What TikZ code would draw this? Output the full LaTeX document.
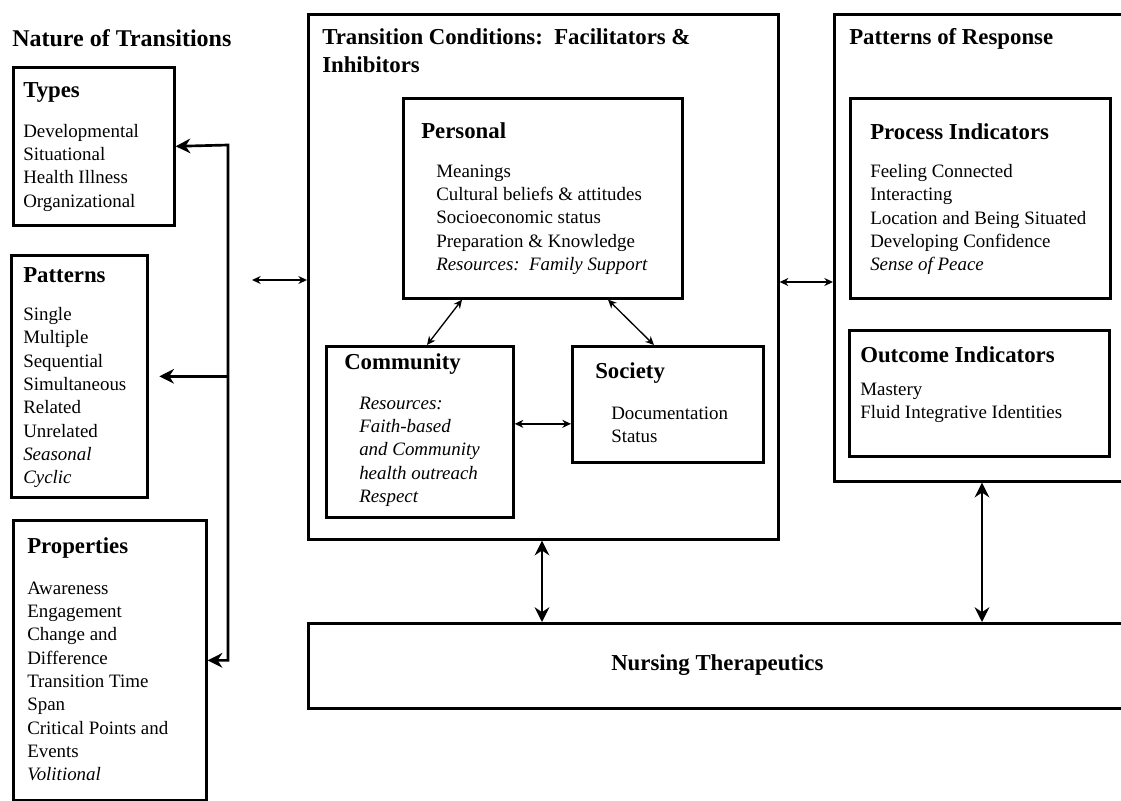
\documentclass[tikz,border=0pt]{standalone}
\usepackage{fontspec}
\setmainfont{Liberation Serif}
\usepackage{tikz}
\usetikzlibrary{positioning, calc, arrows.meta}
\tikzset{
  frame/.style 2 args={draw, line width=2pt, inner sep=0pt, anchor=north west,
    minimum width=#1*0.75pt, minimum height=#2*0.75pt},
  head/.style={font=\fontsize{17.1}{21}\selectfont\bfseries, anchor=west, inner sep=0pt, align=left},
  body/.style={font=\fontsize{14.2}{17.5}\selectfont, anchor=west, inner sep=0pt, align=left},
  twoway/.style={line width=1pt, {Stealth[length=6.5pt,width=6pt]}-{Stealth[length=6.5pt,width=6pt]}},
  fatarrow/.style={line width=2pt, -{Stealth[length=11pt,width=11pt]}},
  fattwoway/.style={line width=2pt, {Stealth[length=11pt,width=11pt]}-{Stealth[length=11pt,width=11pt]}}
}
\begin{document}
\begin{tikzpicture}[x=0.75pt, y=-0.75pt]
  \useasboundingbox (0,0) rectangle (1121,800);

  % Nature of transitions nodes

  \node[head, font=\fontsize{18}{21}\selectfont\bfseries] (nattitle) at (12,38) {Nature of Transitions};

  \node[frame={161}{158}] (types) at (12,66) {};
  \node[head] (typesh) at ($(types.north west)+(11,26)$) {Types};
  \node[body] (typesl) at ($(types.north west)+(11,101.5)$) {Developmental\\Situational\\Health Illness\\Organizational};

  \node[frame={136}{242}] (patterns) at (10,254) {};
  \node[head] (patternsh) at ($(patterns.north west)+(13,21)$) {Patterns};
  \node[body] (patternsl) at ($(patterns.north west)+(13,143.5)$) {Single\\Multiple\\Sequential\\Simultaneous\\Related\\Unrelated\\\textit{Seasonal}\\\textit{Cyclic}};

  \node[frame={193}{280}] (props) at (12,519) {};
  \node[head] (propsh) at ($(props.north west)+(15,29)$) {Properties};
  \node[body] (propsl) at ($(props.north west)+(15,162.5)$) {Awareness\\Engagement\\Change and\\Difference\\Transition Time\\Span\\Critical Points and\\Events\\\textit{Volitional}};

  \coordinate (trunk) at (228,145);
  \draw[fattwoway] (types.east) -- (trunk) |- (props.east);
  \draw[fatarrow, shorten >=8pt] (trunk |- patterns.east) -- (patterns.east);

  % Transition conditions nodes

  \node[frame={470}{525}] (cond) at (307,13) {};
  \node[head] (condtitle) at ($(cond.north west)+(15,38)$) {Transition Conditions:\enspace Facilitators \&\\Inhibitors};

  \node[frame={279}{200}] (personal) at (402,97) {};
  \node[head] (personalh) at ($(personal.north west)+(19,34)$) {Personal};
  \node[body] (personall) at ($(personal.north west)+(34,122.5)$) {Meanings\\Cultural beliefs \& attitudes\\Socioeconomic status\\Preparation \& Knowledge\\\textit{Resources:\enspace Family Support}};

  \node[frame={187}{171}] (community) at (325,345) {};
  \node[head] (communityh) at ($(community.north west)+(19,19)$) {Community};
  \node[body, font=\fontsize{14.2}{17.5}\selectfont\itshape] (communityl) at ($(community.north west)+(34,106.5)$) {Resources:\\Faith-based\\and Community\\health outreach\\Respect};

  \node[frame={191}{116}] (society) at (571,345) {};
  \node[head] (societyh) at ($(society.north west)+(24,28)$) {Society};
  \node[body] (societyl) at ($(society.north west)+(40,79.5)$) {Documentation\\Status};

  \draw[twoway] ($(personal.south west)+(60,0)$) -- ($(community.north west)+(102,0)$);
  \draw[twoway] ($(personal.south west)+(206,0)$) -- ($(society.north west)+(83,0)$);
  \draw[twoway] ($(community.east)+(0,-8)$) -- ($(community.east -| society.west)+(0,-8)$);

  % Patterns of response nodes

  \node[frame={295}{467}] (resp) at (833,13) {};
  \node[head] (resptitle) at ($(resp.north west)+(16,26)$) {Patterns of Response};

  \node[frame={260}{200}] (process) at (849,97) {};
  \node[head] (processh) at ($(process.north west)+(21,35)$) {Process Indicators};
  \node[body] (processl) at ($(process.north west)+(21,122.5)$) {Feeling Connected\\Interacting\\Location and Being Situated\\Developing Confidence\\\textit{Sense of Peace}};

  \node[frame={260}{126}] (outcome) at (848,329) {};
  \node[head] (outcomeh) at ($(outcome.north west)+(12,26)$) {Outcome Indicators};
  \node[body] (outcomel) at ($(outcome.north west)+(12,74)$) {Mastery\\Fluid Integrative Identities};

  % Nursing therapeutics

  \node[frame={821}{85}] (nursing) at (307,622) {};
  \node[head] (nursingh) at ($(nursing.north west)+(304,43)$) {Nursing Therapeutics};

  % Links between the columns

  \coordinate (leftend) at (252,280);
  \coordinate (rightmid) at (805,282);
  \draw[twoway] (leftend) -- (leftend -| cond.west);
  \draw[twoway] (rightmid -| cond.east) -- (rightmid -| resp.west);
  \draw[fattwoway] ($(cond.south west)+(235,0)$) -- ($(nursing.north west)+(235,0)$);
  \draw[fattwoway] ($(resp.south west)+(149,0)$) -- ($(nursing.north west)+(675,0)$);

\end{tikzpicture}
\end{document}
